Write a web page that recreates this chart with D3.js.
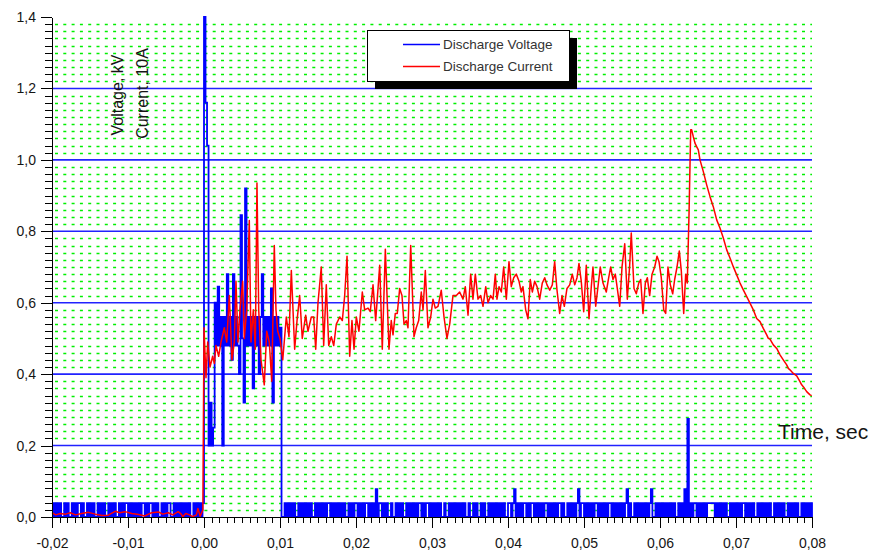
<!DOCTYPE html>
<html>
<head>
<meta charset="utf-8">
<script src="https://cdn.jsdelivr.net/npm/d3@7/dist/d3.min.js"></script>
<style>
  body { margin: 0; background: #fff; }
  text { font-family: Arial, "Liberation Sans", sans-serif; fill: #151515; }
  .axis path, .axis line { stroke: #000; shape-rendering: crispEdges; }
</style>
</head>
<body>
<div class="chart"></div>
<script>
var xTicks = [-0.02, -0.01, 0, 0.01, 0.02, 0.03, 0.04, 0.05, 0.06, 0.07, 0.08];
var yTicks = [0, 0.2, 0.4, 0.6, 0.8, 1.0, 1.2, 1.4];
var seriesNames = ['Discharge Voltage', 'Discharge Current'];
var axisTitles = ['Voltage, kV', 'Current, 10A', 'Time, sec'];

// voltage samples, 0.2 ms apart. chars are levels (see voltLevels)
var voltLevels = { '0': 0, '1': 0.039, 'a': 0.078, 'b': 0.275 };
// -20 ms .. -0.2 ms
var voltBefore =
  '0101010010' + '1001010110' + '1001010100' + '1010100101' + '0100101011' +
  '0101010101' + '1010110101' + '0010101100' + '1010101010' + '1001010101';
// 0 ms .. 10 ms
var voltBurst = [1.40, 1.16, 1.04, 0.20, 0.32, 0.20, 0.25, 0.60, 0.48, 0.645,
  0.48, 0.56, 0.20, 0.56, 0.48, 0.68, 0.48, 0.56, 0.44, 0.68,
  0.48, 0.56, 0.48, 0.40, 0.845, 0.50, 0.32, 0.92, 0.48, 0.56,
  0.48, 0.56, 0.36, 0.56, 0.48, 0.56, 0.40, 0.56, 0.68, 0.48,
  0.56, 0.48, 0.56, 0.48, 0.64, 0.32, 0.56, 0.48, 0.56, 0.48, 0.53];
// 10.2 ms .. 80 ms
var voltAfter =
  '0010101010' + '0101010101' + '0010101010' + '1101010101' + '0100101011' +
  '0101011010' + '10a0110101' + '0010010101' + '0010101010' + '1101011010' +
  '1010100100' + '1010101010' + '1001001010' + '0101001010' + '1010101001' +
  '101a010101' + '1010110101' + '0101101010' + '1011010010' + '10101a0110' +
  '1010101101' + '0101011010' + '1010101a01' + '0010101010' + '101a001010' +
  '1010101010' + '01010a0b01' + '0110101010' + '1111101010' + '1010010101' +
  '0101101010' + '1001010101' + '0100101010' + '1001010101' + '0010101010';

// current, [time ms, value]
var currentBefore = [[-20, 0.012], [-19.5, 0.006], [-18.9, 0.010], [-18.2, 0.008], [-17.6, 0.012],
  [-16.9, 0.006], [-16.1, 0.010], [-15.2, 0.013], [-14.3, 0.008], [-13.4, 0.004], [-12.6, 0.005],
  [-11.7, 0.016], [-11.1, 0.012], [-10.4, 0.015], [-9.5, 0.010], [-8.6, 0.007], [-7.8, 0.003],
  [-6.9, 0.012], [-6.0, 0.014], [-5.4, 0.008], [-4.7, 0.012], [-4.1, 0.006], [-3.4, 0.015],
  [-3.0, 0.008], [-2.8, 0.001], [-2.4, 0.010], [-1.9, 0.006], [-1.5, 0.001], [-1.0, 0.006],
  [-0.8, 0.024], [-0.5, 0.002], [-0.15, 0.02]];

var currentDischarge = [[0.0, 0.53], [0.26, 0.39], [0.49, 0.49], [0.79, 0.42], [1.14, 0.45], [1.36, 0.43],
  [1.58, 0.48], [1.93, 0.45], [2.24, 0.49], [2.67, 0.53], [2.99, 0.49], [3.33, 0.62], [3.68, 0.44],
  [3.99, 0.49], [4.21, 0.66], [4.47, 0.49], [4.74, 0.58], [5.09, 0.66], [5.30, 0.50], [5.62, 0.58],
  [5.96, 0.83], [6.18, 0.49], [6.49, 0.58], [6.75, 0.47], [6.97, 0.935], [7.20, 0.58], [7.50, 0.44],
  [7.93, 0.37], [8.25, 0.52], [8.59, 0.49], [8.91, 0.38], [9.25, 0.76], [9.47, 0.58], [9.70, 0.52],
  [10.0, 0.50], [10.36, 0.44], [10.83, 0.56], [11.18, 0.505], [11.49, 0.69], [11.93, 0.47],
  [12.24, 0.55], [12.59, 0.62], [12.93, 0.50], [13.38, 0.565], [13.68, 0.52], [14.12, 0.56],
  [14.43, 0.56], [14.70, 0.47], [15.0, 0.60], [15.43, 0.70], [15.75, 0.48], [16.09, 0.65],
  [16.41, 0.48], [16.75, 0.505], [17.07, 0.48], [17.41, 0.54], [17.86, 0.56], [18.2, 0.55],
  [18.51, 0.62], [18.82, 0.73], [19.17, 0.45], [19.47, 0.55], [19.74, 0.47], [20.04, 0.56],
  [20.39, 0.52], [20.83, 0.63], [21.14, 0.58], [21.58, 0.585], [21.88, 0.575], [22.24, 0.65],
  [22.59, 0.55], [23.12, 0.705], [23.46, 0.47], [23.86, 0.75], [24.34, 0.47], [24.64, 0.55],
  [24.87, 0.51], [25.17, 0.57], [25.43, 0.57], [25.75, 0.64], [26.05, 0.62], [26.32, 0.54],
  [26.62, 0.55], [26.84, 0.53], [27.2, 0.76], [27.63, 0.505], [27.93, 0.53], [28.25, 0.55],
  [28.59, 0.63], [28.82, 0.58], [29.12, 0.69], [29.47, 0.53], [29.83, 0.56], [30.13, 0.61],
  [30.43, 0.585], [30.79, 0.59], [31.22, 0.635], [31.58, 0.56], [31.97, 0.50], [32.33, 0.54],
  [32.76, 0.62], [33.2, 0.62], [33.64, 0.63], [34.08, 0.61], [34.38, 0.645], [34.74, 0.565],
  [35.09, 0.68], [35.39, 0.61], [35.7, 0.68], [36.05, 0.61], [36.41, 0.62], [36.71, 0.59],
  [37.07, 0.645], [37.37, 0.60], [37.72, 0.62], [38.03, 0.61], [38.33, 0.68], [38.55, 0.61],
  [38.82, 0.645], [39.12, 0.63], [39.43, 0.70], [39.78, 0.61], [40.13, 0.715], [40.43, 0.645],
  [40.75, 0.67], [41.09, 0.68], [41.45, 0.66], [41.75, 0.63], [41.97, 0.645], [42.33, 0.58],
  [42.63, 0.555], [42.93, 0.665], [43.2, 0.63], [43.51, 0.66], [43.82, 0.645], [44.17, 0.61],
  [44.51, 0.655], [44.83, 0.67], [45.13, 0.65], [45.49, 0.635], [45.83, 0.65], [46.14, 0.715],
  [46.45, 0.635], [46.8, 0.57], [47.11, 0.62], [47.41, 0.59], [47.76, 0.64], [48.12, 0.65],
  [48.46, 0.68], [48.78, 0.65], [49.08, 0.67], [49.34, 0.71], [49.64, 0.66], [49.96, 0.575],
  [50.3, 0.705], [50.66, 0.555], [50.96, 0.645], [51.18, 0.70], [51.54, 0.59], [51.84, 0.645],
  [52.14, 0.70], [52.5, 0.655], [52.93, 0.63], [53.25, 0.67], [53.51, 0.70], [53.82, 0.665],
  [54.12, 0.68], [54.38, 0.64], [54.7, 0.59], [55.0, 0.70], [55.36, 0.765], [55.7, 0.61],
  [56.01, 0.705], [56.22, 0.795], [56.58, 0.64], [56.88, 0.625], [57.2, 0.655], [57.46, 0.665],
  [57.76, 0.57], [58.07, 0.655], [58.33, 0.67], [58.64, 0.62], [58.95, 0.68], [59.3, 0.70],
  [59.61, 0.73], [59.87, 0.715], [60.17, 0.67], [60.49, 0.58], [60.75, 0.57], [61.05, 0.70],
  [61.36, 0.65], [61.67, 0.625], [61.93, 0.665], [62.24, 0.70], [62.54, 0.745], [62.8, 0.69],
  [63.12, 0.57], [63.38, 0.68], [63.59, 0.655]];

var currentDecay = [[63.82, 0.85], [64.04, 1.084], [64.17, 1.084], [64.38, 1.065], [64.6, 1.047],
  [64.82, 1.037], [65.04, 1.028], [65.26, 1.0], [65.7, 0.967], [66.14, 0.93], [66.58, 0.897],
  [67.01, 0.869], [67.46, 0.832], [67.89, 0.809], [68.33, 0.781], [68.78, 0.748], [69.21, 0.725],
  [69.64, 0.701], [70.09, 0.678], [70.53, 0.655], [70.96, 0.636], [71.41, 0.617], [71.84, 0.599],
  [72.28, 0.58], [72.72, 0.556], [73.16, 0.547], [73.59, 0.528], [74.04, 0.51], [74.25, 0.50],
  [74.47, 0.498], [74.91, 0.482], [75.36, 0.472], [75.79, 0.454], [76.22, 0.44], [76.67, 0.426],
  [76.88, 0.416], [77.1, 0.412], [77.54, 0.402], [77.99, 0.395], [78.42, 0.379], [78.64, 0.37],
  [78.86, 0.365], [79.3, 0.351], [79.74, 0.342], [79.96, 0.34]];

var margin = { top: 17, right: 60, bottom: 40, left: 52 };
var width = 872 - margin.left - margin.right;
var height = 557 - margin.top - margin.bottom;

var voltage = [];
voltBefore.split('').forEach(function(c, i) { voltage.push([-20 + i * 0.2, voltLevels[c]]); });
voltBurst.forEach(function(v, i) { voltage.push([i * 0.2, v]); });
voltAfter.split('').forEach(function(c, i) { voltage.push([10.2 + i * 0.2, voltLevels[c]]); });

var current = currentBefore.concat(currentDischarge, currentDecay);

var xScale = d3.scaleLinear().domain([-0.02, 0.08]).range([0, width]);
var yScale = d3.scaleLinear().domain([0, 1.4]).range([height, 0]);

var comma = function(p) {
  return function(d) { return d.toFixed(p).replace('.', ','); };
};

var line = d3.line()
  .x(function(d) { return xScale(d[0] / 1000); })
  .y(function(d) { return yScale(d[1]); });

// sampled voltage is drawn as steps, like the scope trace
var stepLine = d3.line()
  .curve(d3.curveStepAfter)
  .x(function(d) { return xScale(d[0] / 1000); })
  .y(function(d) { return yScale(d[1]); });

var svg = d3.select('.chart').append('svg')
    .attr('width', 872)
    .attr('height', 557)
  .append('g')
    .attr('transform', 'translate(' + margin.left + ',' + margin.top + ')');

// dotted green minor grid every 0.02
var minorY = d3.range(1, 70).filter(function(k) { return k % 10 !== 0; })
  .map(function(k) { return k * 0.02; });
svg.selectAll('.minor-grid').data(minorY).enter().append('line')
    .attr('class', 'minor-grid')
    .attr('x1', 3).attr('x2', width)
    .attr('y1', function(d) { return Math.round(yScale(d)) + 0.5; })
    .attr('y2', function(d) { return Math.round(yScale(d)) + 0.5; })
    .attr('stroke', '#00f000')
    .attr('stroke-width', 1.4)
    .attr('stroke-dasharray', '3,5.3');

// blue major grid
svg.selectAll('.major-grid').data(yTicks.slice(1, -1)).enter().append('line')
    .attr('class', 'major-grid')
    .attr('x1', 0).attr('x2', width)
    .attr('y1', function(d) { return yScale(d); })
    .attr('y2', function(d) { return yScale(d); })
    .attr('stroke', '#2222ff')
    .attr('stroke-width', 1.6);

svg.append('path')
    .datum(voltage)
    .attr('fill', 'none')
    .attr('stroke', '#0000ff')
    .attr('stroke-width', 1.8)
    .attr('d', stepLine);

svg.append('path')
    .datum(current)
    .attr('fill', 'none')
    .attr('stroke', '#ff0000')
    .attr('stroke-width', 1.5)
    .attr('stroke-linejoin', 'round')
    .attr('d', line);

// axes
svg.append('g')
    .attr('class', 'axis')
    .attr('transform', 'translate(0,' + height + ')')
    .call(d3.axisBottom(xScale)
      .tickValues(d3.range(-20, 81).map(function(k) { return k / 1000; }))
      .tickSize(6).tickSizeOuter(0).tickFormat(''));

svg.append('g')
    .attr('class', 'axis')
    .attr('transform', 'translate(0,' + height + ')')
    .call(d3.axisBottom(xScale).tickValues(xTicks)
      .tickSize(11).tickSizeOuter(0).tickPadding(10).tickFormat(comma(2)))
    .selectAll('text').style('font-size', '14px');

svg.append('g')
    .attr('class', 'axis')
    .call(d3.axisLeft(yScale)
      .tickValues(d3.range(0, 71).map(function(k) { return k * 0.02; }))
      .tickSize(7).tickSizeOuter(0).tickFormat(''));

svg.append('g')
    .attr('class', 'axis')
    .call(d3.axisLeft(yScale).tickValues(yTicks)
      .tickSize(11).tickSizeOuter(0).tickPadding(5).tickFormat(comma(1)))
    .selectAll('text').style('font-size', '14px');

svg.selectAll('.axis text').style('fill', '#151515');

// axis titles
svg.append('text')
    .attr('transform', 'translate(' + (123 - margin.left) + ',' + (95 - margin.top) + ') rotate(-90)')
    .attr('text-anchor', 'middle')
    .style('font-size', '16px')
    .text(axisTitles[0]);

svg.append('text')
    .attr('transform', 'translate(' + (148 - margin.left) + ',' + (93.5 - margin.top) + ') rotate(-90)')
    .attr('text-anchor', 'middle')
    .style('font-size', '16px')
    .text(axisTitles[1]);

svg.append('text')
    .attr('x', 778 - margin.left)
    .attr('y', 439 - margin.top)
    .style('font-size', '21px')
    .text(axisTitles[2]);

// legend with drop shadow
var legend = svg.append('g')
    .attr('transform', 'translate(' + (367 - margin.left) + ',' + (30 - margin.top) + ')');

legend.append('rect')
    .attr('x', 8).attr('y', 8)
    .attr('width', 202).attr('height', 51)
    .attr('fill', '#000');

legend.append('rect')
    .attr('x', 0.5).attr('y', 0.5)
    .attr('width', 202).attr('height', 51)
    .attr('fill', '#fff')
    .attr('stroke', '#000');

var colors = ['#0000ff', '#ff0000'];
seriesNames.forEach(function(name, i) {
  legend.append('line')
      .attr('x1', 36).attr('x2', 73)
      .attr('y1', 14.5 + i * 22).attr('y2', 14.5 + i * 22)
      .attr('stroke', colors[i])
      .attr('stroke-width', 1.3);
  legend.append('text')
      .attr('x', 76)
      .attr('y', 19 + i * 22)
      .style('font-size', '13.5px')
      .style('fill', '#333')
      .text(name);
});
</script>
</body>
</html>
